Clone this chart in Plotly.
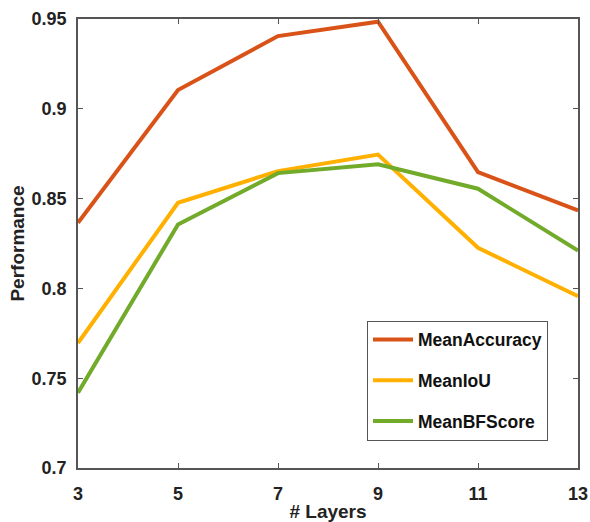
import plotly.graph_objects as go

layers = [3, 5, 7, 9, 11, 13]
mean_accuracy = [0.8365, 0.9105, 0.9405, 0.9485, 0.8648, 0.8434]
mean_iou = [0.7696, 0.8477, 0.8653, 0.8745, 0.8226, 0.7956]
mean_bfscore = [0.7419, 0.8356, 0.8642, 0.8691, 0.8555, 0.8211]

x_ticks = [3, 5, 7, 9, 11, 13]
y_ticks = [0.7, 0.75, 0.8, 0.85, 0.9, 0.95]
y_tick_labels = ["0.7", "0.75", "0.8", "0.85", "0.9", "0.95"]

series = [
    ("MeanAccuracy", mean_accuracy, "#D95319"),
    ("MeanIoU", mean_iou, "#FFB000"),
    ("MeanBFScore", mean_bfscore, "#72AA2A"),
]

FONT = "Liberation Sans"
fig = go.Figure()
for i, (name, vals, color) in enumerate(series):
    fig.add_trace(go.Scatter(
        x=layers, y=vals, mode="lines", name=f"<b>{name}</b>",
        line=dict(color=color, width=4),
        legendgroup=f"g{i}",
    ))

axis_common = dict(
    showline=True, linecolor="#555555", linewidth=1.5, mirror="ticks",
    ticks="inside", ticklen=5, tickcolor="#555555", tickwidth=1,
    showgrid=False, zeroline=False, automargin=False,
    tickfont=dict(family=FONT, size=18, color="#222222"),
)

fig.update_layout(
    width=590, height=522,
    margin=dict(l=78, r=12, t=19, b=54),
    paper_bgcolor="white", plot_bgcolor="white",
    font=dict(family=FONT, color="#222222"),
    xaxis=dict(
        range=[3, 13], tickvals=x_ticks, ticktext=[f"<b>{v}</b>" for v in x_ticks],
        ticklabelstandoff=9,
        title=dict(text="<b># Layers</b>", font=dict(family=FONT, size=19, color="#222222"), standoff=5),
        **axis_common,
    ),
    yaxis=dict(
        range=[0.7, 0.95], tickvals=y_ticks, ticktext=[f"<b>{t}</b>" for t in y_tick_labels],
        ticklabelstandoff=6,
        title=dict(text="<b>Performance</b>", font=dict(family=FONT, size=19, color="#222222"), standoff=2),
        **axis_common,
    ),
    showlegend=True,
    legend=dict(
        x=0.578, y=0.328, xanchor="left", yanchor="top",
        bordercolor="#555555", borderwidth=1, bgcolor="white",
        font=dict(family=FONT, size=17.5, color="#111111"),
        tracegroupgap=15, itemwidth=40,
    ),
)

fig.write_html(
    "out.html",
    config={"displayModeBar": False},
    post_script="document.body.style.margin='0';document.body.style.overflow='hidden';",
)
